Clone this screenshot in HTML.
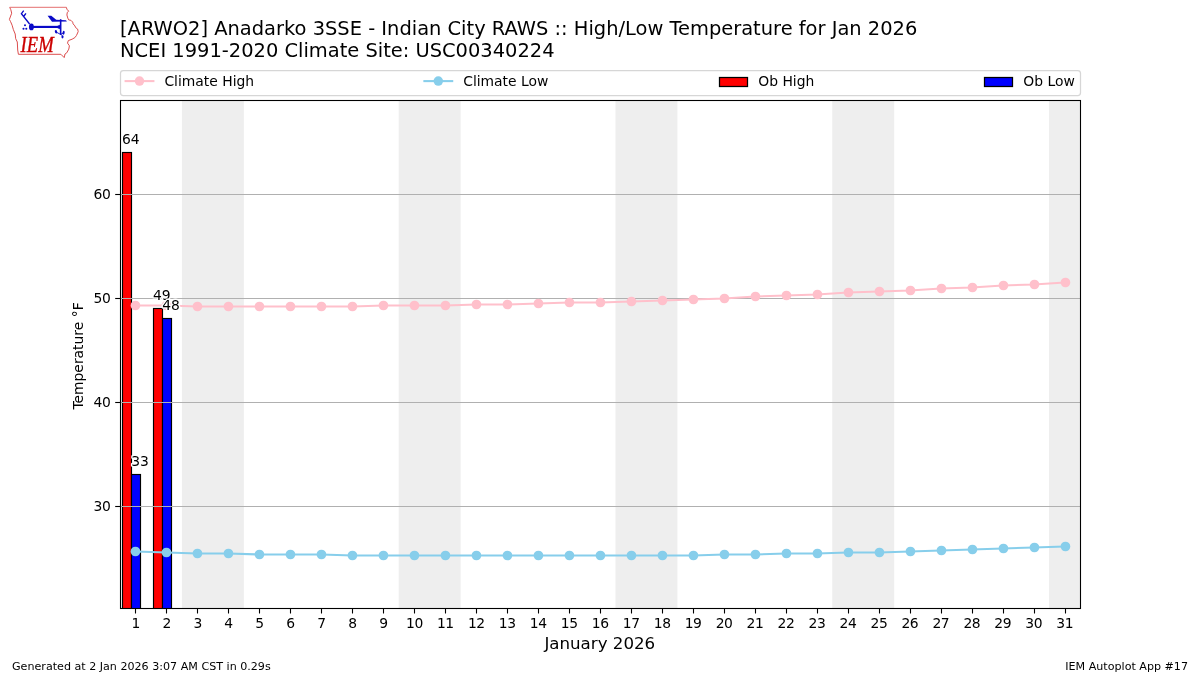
<!DOCTYPE html>
<html lang="en"><head><meta charset="utf-8"><title>IEM Autoplot App #17</title>
<style>html,body{margin:0;padding:0;background:#fff;}body{width:1200px;height:675px;overflow:hidden;}svg{display:block;}</style>
</head><body>
<svg width="1200" height="675" viewBox="0 0 1200 675" font-family="DejaVu Sans, Liberation Sans, sans-serif">
<rect x="0" y="0" width="1200" height="675" fill="#fff"/>
<g fill="#eeeeee">
<rect x="181.94" y="100.5" width="61.94" height="508.0"/>
<rect x="398.71" y="100.5" width="61.94" height="508.0"/>
<rect x="615.48" y="100.5" width="61.94" height="508.0"/>
<rect x="832.26" y="100.5" width="61.94" height="508.0"/>
<rect x="1049.03" y="100.5" width="30.97" height="508.0"/>
</g>
<clipPath id="axclip"><rect x="120.5" y="100.5" width="960.0" height="508.0"/></clipPath>
<g stroke="#000" stroke-width="1.15" clip-path="url(#axclip)">
<rect x="122.5" y="152.5" width="9.0" height="459.0" fill="#ff0000"/>
<rect x="131.5" y="474.5" width="9.0" height="137.0" fill="#0000ff"/>
<rect x="153.5" y="308.5" width="9.0" height="303.0" fill="#ff0000"/>
<rect x="162.5" y="318.5" width="9.0" height="293.0" fill="#0000ff"/>
</g>
<g stroke="#b0b0b0" stroke-width="1.1">
<line x1="120.5" x2="1080.5" y1="506.5" y2="506.5"/>
<line x1="120.5" x2="1080.5" y1="402.5" y2="402.5"/>
<line x1="120.5" x2="1080.5" y1="298.5" y2="298.5"/>
<line x1="120.5" x2="1080.5" y1="194.5" y2="194.5"/>
</g>
<polyline points="135.68,305.50 166.65,305.50 197.62,306.50 228.59,306.50 259.55,306.50 290.52,306.50 321.49,306.50 352.46,306.50 383.43,305.50 414.39,305.50 445.36,305.50 476.33,304.50 507.30,304.50 538.26,303.50 569.23,302.50 600.20,302.50 631.17,301.50 662.14,300.50 693.10,299.50 724.07,298.50 755.04,296.50 786.01,295.50 816.97,294.50 847.94,292.50 878.91,291.50 909.88,290.50 940.85,288.50 971.81,287.50 1002.78,285.50 1033.75,284.50 1064.72,282.50" fill="none" stroke="#ffc0cb" stroke-width="2.08" stroke-linejoin="round"/>
<g fill="#ffc0cb">
<circle cx="135.45" cy="305.50" r="4.85"/>
<circle cx="166.45" cy="305.50" r="4.85"/>
<circle cx="197.45" cy="306.50" r="4.85"/>
<circle cx="228.45" cy="306.50" r="4.85"/>
<circle cx="259.45" cy="306.50" r="4.85"/>
<circle cx="290.45" cy="306.50" r="4.85"/>
<circle cx="321.45" cy="306.50" r="4.85"/>
<circle cx="352.45" cy="306.50" r="4.85"/>
<circle cx="383.45" cy="305.50" r="4.85"/>
<circle cx="414.45" cy="305.50" r="4.85"/>
<circle cx="445.45" cy="305.50" r="4.85"/>
<circle cx="476.45" cy="304.50" r="4.85"/>
<circle cx="507.45" cy="304.50" r="4.85"/>
<circle cx="538.45" cy="303.50" r="4.85"/>
<circle cx="569.45" cy="302.50" r="4.85"/>
<circle cx="600.45" cy="302.50" r="4.85"/>
<circle cx="631.45" cy="301.50" r="4.85"/>
<circle cx="662.45" cy="300.50" r="4.85"/>
<circle cx="693.45" cy="299.50" r="4.85"/>
<circle cx="724.45" cy="298.50" r="4.85"/>
<circle cx="755.45" cy="296.50" r="4.85"/>
<circle cx="786.45" cy="295.50" r="4.85"/>
<circle cx="817.45" cy="294.50" r="4.85"/>
<circle cx="848.45" cy="292.50" r="4.85"/>
<circle cx="879.45" cy="291.50" r="4.85"/>
<circle cx="910.45" cy="290.50" r="4.85"/>
<circle cx="941.45" cy="288.50" r="4.85"/>
<circle cx="972.45" cy="287.50" r="4.85"/>
<circle cx="1003.45" cy="285.50" r="4.85"/>
<circle cx="1034.45" cy="284.50" r="4.85"/>
<circle cx="1065.45" cy="282.50" r="4.85"/>
</g>
<polyline points="135.68,551.50 166.65,552.50 197.62,553.50 228.59,553.50 259.55,554.50 290.52,554.50 321.49,554.50 352.46,555.50 383.43,555.50 414.39,555.50 445.36,555.50 476.33,555.50 507.30,555.50 538.26,555.50 569.23,555.50 600.20,555.50 631.17,555.50 662.14,555.50 693.10,555.50 724.07,554.50 755.04,554.50 786.01,553.50 816.97,553.50 847.94,552.50 878.91,552.50 909.88,551.50 940.85,550.50 971.81,549.50 1002.78,548.50 1033.75,547.50 1064.72,546.50" fill="none" stroke="#87ceeb" stroke-width="2.08" stroke-linejoin="round"/>
<g fill="#87ceeb">
<circle cx="135.45" cy="551.50" r="4.85"/>
<circle cx="166.45" cy="552.50" r="4.85"/>
<circle cx="197.45" cy="553.50" r="4.85"/>
<circle cx="228.45" cy="553.50" r="4.85"/>
<circle cx="259.45" cy="554.50" r="4.85"/>
<circle cx="290.45" cy="554.50" r="4.85"/>
<circle cx="321.45" cy="554.50" r="4.85"/>
<circle cx="352.45" cy="555.50" r="4.85"/>
<circle cx="383.45" cy="555.50" r="4.85"/>
<circle cx="414.45" cy="555.50" r="4.85"/>
<circle cx="445.45" cy="555.50" r="4.85"/>
<circle cx="476.45" cy="555.50" r="4.85"/>
<circle cx="507.45" cy="555.50" r="4.85"/>
<circle cx="538.45" cy="555.50" r="4.85"/>
<circle cx="569.45" cy="555.50" r="4.85"/>
<circle cx="600.45" cy="555.50" r="4.85"/>
<circle cx="631.45" cy="555.50" r="4.85"/>
<circle cx="662.45" cy="555.50" r="4.85"/>
<circle cx="693.45" cy="555.50" r="4.85"/>
<circle cx="724.45" cy="554.50" r="4.85"/>
<circle cx="755.45" cy="554.50" r="4.85"/>
<circle cx="786.45" cy="553.50" r="4.85"/>
<circle cx="817.45" cy="553.50" r="4.85"/>
<circle cx="848.45" cy="552.50" r="4.85"/>
<circle cx="879.45" cy="552.50" r="4.85"/>
<circle cx="910.45" cy="551.50" r="4.85"/>
<circle cx="941.45" cy="550.50" r="4.85"/>
<circle cx="972.45" cy="549.50" r="4.85"/>
<circle cx="1003.45" cy="548.50" r="4.85"/>
<circle cx="1034.45" cy="547.50" r="4.85"/>
<circle cx="1065.45" cy="546.50" r="4.85"/>
</g>
<text x="130.84" y="143.80" font-size="13.89" text-anchor="middle" fill="#000" stroke="#fff" stroke-width="2.78" stroke-linejoin="round" paint-order="stroke">64</text>
<text x="161.81" y="299.60" font-size="13.89" text-anchor="middle" fill="#000" stroke="#fff" stroke-width="2.78" stroke-linejoin="round" paint-order="stroke">49</text>
<text x="140.13" y="466.00" font-size="13.89" text-anchor="middle" fill="#000" stroke="#fff" stroke-width="2.78" stroke-linejoin="round" paint-order="stroke">33</text>
<text x="171.10" y="310.00" font-size="13.89" text-anchor="middle" fill="#000" stroke="#fff" stroke-width="2.78" stroke-linejoin="round" paint-order="stroke">48</text>
<rect x="120.5" y="100.5" width="960.0" height="508.0" fill="none" stroke="#000" stroke-width="1.1"/>
<g stroke="#000" stroke-width="1.1">
<line x1="135.5" x2="135.5" y1="608.5" y2="613.5"/>
<line x1="166.5" x2="166.5" y1="608.5" y2="613.5"/>
<line x1="197.5" x2="197.5" y1="608.5" y2="613.5"/>
<line x1="228.5" x2="228.5" y1="608.5" y2="613.5"/>
<line x1="259.5" x2="259.5" y1="608.5" y2="613.5"/>
<line x1="290.5" x2="290.5" y1="608.5" y2="613.5"/>
<line x1="321.5" x2="321.5" y1="608.5" y2="613.5"/>
<line x1="352.5" x2="352.5" y1="608.5" y2="613.5"/>
<line x1="383.5" x2="383.5" y1="608.5" y2="613.5"/>
<line x1="414.5" x2="414.5" y1="608.5" y2="613.5"/>
<line x1="445.5" x2="445.5" y1="608.5" y2="613.5"/>
<line x1="476.5" x2="476.5" y1="608.5" y2="613.5"/>
<line x1="507.5" x2="507.5" y1="608.5" y2="613.5"/>
<line x1="538.5" x2="538.5" y1="608.5" y2="613.5"/>
<line x1="569.5" x2="569.5" y1="608.5" y2="613.5"/>
<line x1="600.5" x2="600.5" y1="608.5" y2="613.5"/>
<line x1="631.5" x2="631.5" y1="608.5" y2="613.5"/>
<line x1="662.5" x2="662.5" y1="608.5" y2="613.5"/>
<line x1="693.5" x2="693.5" y1="608.5" y2="613.5"/>
<line x1="724.5" x2="724.5" y1="608.5" y2="613.5"/>
<line x1="755.5" x2="755.5" y1="608.5" y2="613.5"/>
<line x1="786.5" x2="786.5" y1="608.5" y2="613.5"/>
<line x1="817.5" x2="817.5" y1="608.5" y2="613.5"/>
<line x1="848.5" x2="848.5" y1="608.5" y2="613.5"/>
<line x1="879.5" x2="879.5" y1="608.5" y2="613.5"/>
<line x1="910.5" x2="910.5" y1="608.5" y2="613.5"/>
<line x1="941.5" x2="941.5" y1="608.5" y2="613.5"/>
<line x1="972.5" x2="972.5" y1="608.5" y2="613.5"/>
<line x1="1003.5" x2="1003.5" y1="608.5" y2="613.5"/>
<line x1="1034.5" x2="1034.5" y1="608.5" y2="613.5"/>
<line x1="1065.5" x2="1065.5" y1="608.5" y2="613.5"/>
<line x1="115.2" x2="120.5" y1="506.5" y2="506.5"/>
<line x1="115.2" x2="120.5" y1="402.5" y2="402.5"/>
<line x1="115.2" x2="120.5" y1="298.5" y2="298.5"/>
<line x1="115.2" x2="120.5" y1="194.5" y2="194.5"/>
</g>
<g font-size="13.89" fill="#000" letter-spacing="-0.4">
<text x="135.68" y="627.6" text-anchor="middle">1</text>
<text x="166.65" y="627.6" text-anchor="middle">2</text>
<text x="197.62" y="627.6" text-anchor="middle">3</text>
<text x="228.59" y="627.6" text-anchor="middle">4</text>
<text x="259.55" y="627.6" text-anchor="middle">5</text>
<text x="290.52" y="627.6" text-anchor="middle">6</text>
<text x="321.49" y="627.6" text-anchor="middle">7</text>
<text x="352.46" y="627.6" text-anchor="middle">8</text>
<text x="383.43" y="627.6" text-anchor="middle">9</text>
<text x="414.39" y="627.6" text-anchor="middle">10</text>
<text x="445.36" y="627.6" text-anchor="middle">11</text>
<text x="476.33" y="627.6" text-anchor="middle">12</text>
<text x="507.30" y="627.6" text-anchor="middle">13</text>
<text x="538.26" y="627.6" text-anchor="middle">14</text>
<text x="569.23" y="627.6" text-anchor="middle">15</text>
<text x="600.20" y="627.6" text-anchor="middle">16</text>
<text x="631.17" y="627.6" text-anchor="middle">17</text>
<text x="662.14" y="627.6" text-anchor="middle">18</text>
<text x="693.10" y="627.6" text-anchor="middle">19</text>
<text x="724.07" y="627.6" text-anchor="middle">20</text>
<text x="755.04" y="627.6" text-anchor="middle">21</text>
<text x="786.01" y="627.6" text-anchor="middle">22</text>
<text x="816.97" y="627.6" text-anchor="middle">23</text>
<text x="847.94" y="627.6" text-anchor="middle">24</text>
<text x="878.91" y="627.6" text-anchor="middle">25</text>
<text x="909.88" y="627.6" text-anchor="middle">26</text>
<text x="940.85" y="627.6" text-anchor="middle">27</text>
<text x="971.81" y="627.6" text-anchor="middle">28</text>
<text x="1002.78" y="627.6" text-anchor="middle">29</text>
<text x="1033.75" y="627.6" text-anchor="middle">30</text>
<text x="1064.72" y="627.6" text-anchor="middle">31</text>
<text x="110.4" y="510.90" text-anchor="end">30</text>
<text x="110.4" y="406.90" text-anchor="end">40</text>
<text x="110.4" y="302.90" text-anchor="end">50</text>
<text x="110.4" y="198.90" text-anchor="end">60</text>
</g>
<text x="599.8" y="648.7" font-size="16.67" text-anchor="middle" fill="#000">January 2026</text>
<text transform="translate(82.6,356.0) rotate(-90)" font-size="13.89" text-anchor="middle" fill="#000">Temperature °F</text>
<text x="120" y="34.9" font-size="19.44" fill="#000" id="ttl">[ARWO2] Anadarko 3SSE - Indian City RAWS :: High/Low Temperature for Jan 2026</text>
<text x="120" y="56.7" font-size="19.44" fill="#000" id="sub">NCEI 1991-2020 Climate Site: USC00340224</text>
<text x="12" y="669.6" font-size="11.11" fill="#000" id="f1">Generated at 2 Jan 2026 3:07 AM CST in 0.29s</text>
<text x="1188" y="669.6" font-size="11.11" text-anchor="end" fill="#000" id="f2">IEM Autoplot App #17</text>
<rect x="120.5" y="70.5" width="960" height="25" rx="2.8" ry="2.8" fill="#fff" fill-opacity="0.8" stroke="#cccccc" stroke-opacity="0.8" stroke-width="1.25"/>
<line x1="125.6" x2="153.4" y1="81.1" y2="81.1" stroke="#ffc0cb" stroke-width="2.08" stroke-linecap="square"/><circle cx="139.5" cy="81.1" r="4.75" fill="#ffc0cb"/>
<line x1="424.4" x2="452.2" y1="81.1" y2="81.1" stroke="#87ceeb" stroke-width="2.08" stroke-linecap="square"/><circle cx="438.3" cy="81.1" r="4.75" fill="#87ceeb"/>
<rect x="719.5" y="77.5" width="28" height="9" fill="#ff0000" stroke="#000" stroke-width="1.25"/>
<rect x="984.5" y="77.5" width="28" height="9" fill="#0000ff" stroke="#000" stroke-width="1.25"/>
<g font-size="13.89" fill="#000">
<text x="164.4" y="86.0">Climate High</text>
<text x="463.2" y="86.0">Climate Low</text>
<text x="758.3" y="86.0">Ob High</text>
<text x="1023.3" y="86.0">Ob Low</text>
</g>
<g id="logo">
<path d="M9.7,7.4 L66.4,7.4" fill="none" stroke="#e98c8c" stroke-width="1.1"/>
<path d="M66.4,7.4 L66.9,9.2 L68.7,11.2 L67.3,12.3 L66.9,15 L67.8,18.1 L68.7,19.9 L70.9,20.3 L72.7,22.1 L73.1,23.9 L74.9,25.9 L75.6,27.6 L77.6,29 L78.2,31.6 L76.5,35.4 L74.9,37.6 L72.1,39.2 L68.3,40.6 L67.5,43.1 L69.4,45.8 L68.8,49.1 L66.7,52.9 L65,54 L64.2,57.6 L60.9,54.3 L18.4,54.3 L17.7,50 L17.3,42 L15.7,38.7 L15.2,34 L13.4,29.7 L12.1,25.2 L10.6,21.7 L9.4,19.4 L11.7,13.2 L10.8,9.7 L9.7,7.4" fill="none" stroke="#dc4e4e" stroke-width="1" stroke-linejoin="round"/>
<g fill="#0a0ac8" stroke="none">
<ellipse cx="31.4" cy="26.9" rx="2.45" ry="3.45"/>
<rect x="31" y="25.85" width="29.6" height="2.15"/>
<path d="M57.3,25.9 L59.9,24.8 L59.9,29.2 L57.3,27.9 Z"/>
<rect x="59.85" y="19.2" width="1.6" height="15.4"/>
<path d="M47.6,15.8 L51.3,15.8 L56.2,19.7 L66,20.3 L66.9,21.5 L52,21.7 Z"/>
<ellipse cx="56" cy="31.8" rx="1.15" ry="1.8" transform="rotate(-15 56 31.8)"/>
<ellipse cx="63.6" cy="32.7" rx="1.05" ry="2" transform="rotate(10 63.6 32.7)"/>
<ellipse cx="62.5" cy="36.8" rx="1.05" ry="1.6"/>
<circle cx="25" cy="25.2" r="1"/><circle cx="23.5" cy="28.8" r="1.05"/><circle cx="26.3" cy="28.8" r="1.05"/>
</g>
<g stroke="#0a0ac8" fill="none">
<path d="M29.6,24 L21.4,13.7 L23.7,10.6 M23.7,16.5 L25.9,13.3" stroke-width="1.35"/>
<path d="M56.5,32.2 L62.3,35.4 M63.4,33 L60.5,34.4" stroke-width="0.9"/>
</g>
<text transform="translate(20.6,51.7) scale(0.82,1)" font-family="Liberation Serif, DejaVu Serif, serif" font-style="italic" font-size="22.7" fill="#cc0000" stroke="#cc0000" stroke-width="0.35">IEM</text>
</g>

</svg>
</body></html>
